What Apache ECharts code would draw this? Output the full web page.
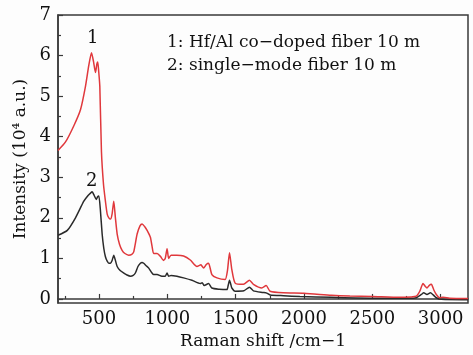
<!DOCTYPE html>
<html><head><meta charset="utf-8">
<script src="https://cdn.jsdelivr.net/npm/echarts@6/dist/echarts.min.js"></script>
<style>html,body{margin:0;padding:0;background:#fdfdfd}#c{width:473px;height:355px}</style>
</head><body><div id="c"></div>
<script>
// Curve 1: Hf/Al co-doped fiber 10 m
const shift1 = [200,255,316,365,401,425,445,460,474,485,491,498,506,518,533,547,560,572,584,596,608,620,633,650,669,690,717,740,754,779,800,815,835,852,876,888,900,925,949,972,985,998,1010,1027,1070,1119,1168,1217,1246,1265,1285,1302,1326,1363,1423,1440,1455,1472,1496,1557,1601,1630,1691,1723,1752,1849,2000,2200,2336,2500,2700,2780,2822,2847,2871,2885,2900,2915,2932,2950,2968,2993,3017,3066,3200];
const int1 = [3.66,3.87,4.27,4.67,5.24,5.75,6.07,5.85,5.58,5.80,5.84,5.6,5.24,3.63,2.82,2.41,2.09,2.0,1.97,2.1,2.41,2.0,1.6,1.35,1.2,1.12,1.08,1.10,1.16,1.6,1.8,1.85,1.78,1.69,1.52,1.3,1.12,1.12,1.05,0.95,1.0,1.24,1.0,1.08,1.08,1.06,0.96,0.8,0.84,0.76,0.85,0.88,0.6,0.52,0.48,0.7,1.14,0.72,0.39,0.36,0.46,0.36,0.27,0.33,0.19,0.15,0.14,0.09,0.07,0.06,0.04,0.05,0.07,0.19,0.38,0.32,0.27,0.33,0.36,0.22,0.11,0.03,0.04,0.02,0.01];
// Curve 2: single-mode fiber 10 m
const shift2 = [200,268,328,389,420,438,450,465,480,490,499,510,523,535,547,560,572,584,596,608,620,633,655,681,705,730,750,766,785,803,815,827,845,864,888,900,925,960,985,998,1010,1027,1070,1119,1180,1241,1255,1270,1302,1326,1380,1436,1445,1455,1465,1472,1496,1560,1601,1630,1700,1723,1752,1850,1970,2200,2500,2800,2822,2859,2876,2900,2925,2945,2968,3005,3200];
const int2 = [1.57,1.69,2.0,2.41,2.55,2.61,2.64,2.55,2.45,2.52,2.54,2.2,1.6,1.25,1.04,0.93,0.88,0.88,0.95,1.08,0.95,0.8,0.7,0.64,0.59,0.56,0.58,0.64,0.8,0.88,0.9,0.88,0.82,0.76,0.64,0.6,0.6,0.56,0.56,0.64,0.56,0.58,0.56,0.52,0.46,0.38,0.40,0.33,0.38,0.27,0.24,0.23,0.33,0.46,0.35,0.27,0.19,0.2,0.29,0.2,0.16,0.15,0.1,0.08,0.06,0.04,0.02,0.02,0.03,0.11,0.15,0.11,0.15,0.1,0.03,-0.01,-0.02];
const xLabels = [500,1000,1500,2000,2500,3000];
const xMinor = [250,750,1250,1750,2250,2750];
const yLabels = [0,1,2,3,4,5,6,7];
const yMinor = [0.5,1.5,2.5,3.5,4.5,5.5,6.5];
const legendLines = ['1: Hf/Al co\u2212doped fiber 10 m','2: single\u2212mode fiber 10 m'];

const F = 'DejaVu Serif';
const axisCol = '#3a3a3a';
const chart = echarts.init(document.getElementById('c'));
const pairs = (xs, ys) => xs.map((x, i) => [x, ys[i]]);
chart.setOption({
  backgroundColor: '#fdfdfd',
  animation: false,
  grid: {left: 58, right: 5, top: 15, bottom: 47, show: true, borderColor: axisCol, borderWidth: 1.5, backgroundColor: 'transparent'},
  xAxis: [{
    type: 'value', min: 200, max: 3200, position: 'bottom',
    name: 'Raman shift /cm\u22121', nameLocation: 'middle', nameGap: 30,
    nameTextStyle: {fontFamily: F, fontSize: 17, color: '#111'},
    axisLine: {show: true, lineStyle: {color: axisCol, width: 1.5}},
    axisTick: {show: true, inside: true, length: 5, customValues: xLabels, lineStyle: {color: axisCol, width: 1.2}},
    axisLabel: {customValues: xLabels, formatter: v => String(v), fontFamily: F, fontSize: 18, color: '#111', margin: 7},
    splitLine: {show: false}
  }, {
    type: 'value', min: 200, max: 3200, position: 'bottom',
    axisLine: {show: false},
    axisTick: {show: true, inside: true, length: 3, customValues: xMinor, lineStyle: {color: axisCol, width: 1.2}},
    axisLabel: {show: false}, splitLine: {show: false}
  }],
  yAxis: [{
    type: 'value', min: -0.1, max: 7,
    name: 'Intensity (10\u2074 a.u.)', nameLocation: 'middle', nameGap: 26, nameRotate: 90,
    nameTextStyle: {fontFamily: F, fontSize: 17, color: '#111'},
    axisLine: {show: true, lineStyle: {color: axisCol, width: 1.5}},
    axisTick: {show: true, inside: true, length: 5, customValues: yLabels, lineStyle: {color: axisCol, width: 1.2}},
    axisLabel: {customValues: yLabels, formatter: v => String(v), fontFamily: F, fontSize: 18, color: '#111', margin: 7},
    splitLine: {show: false}
  }, {
    type: 'value', min: -0.1, max: 7, position: 'left',
    axisLine: {show: false},
    axisTick: {show: true, inside: true, length: 3, customValues: yMinor, lineStyle: {color: axisCol, width: 1.2}},
    axisLabel: {show: false}, splitLine: {show: false}
  }],
  series: [{
    type: 'line', data: pairs(shift1, int1), showSymbol: false, smooth: 0.2,
    lineStyle: {color: '#e0383c', width: 1.5}, z: 3
  }, {
    type: 'line', data: pairs(shift2, int2), showSymbol: false, smooth: 0.2,
    lineStyle: {color: '#2a2a2a', width: 1.5}, z: 2
  }],
  graphic: [
    {type: 'text', left: 87, top: 29, style: {text: '1', font: '18px "DejaVu Serif"', fill: '#111'}},
    {type: 'text', left: 86, top: 172, style: {text: '2', font: '18px "DejaVu Serif"', fill: '#111'}},
    {type: 'text', left: 167, top: 34, style: {text: legendLines[0], font: '17px "DejaVu Serif"', fill: '#111'}},
    {type: 'text', left: 167, top: 57, style: {text: legendLines[1], font: '17px "DejaVu Serif"', fill: '#111'}}
  ]
});
</script></body></html>
